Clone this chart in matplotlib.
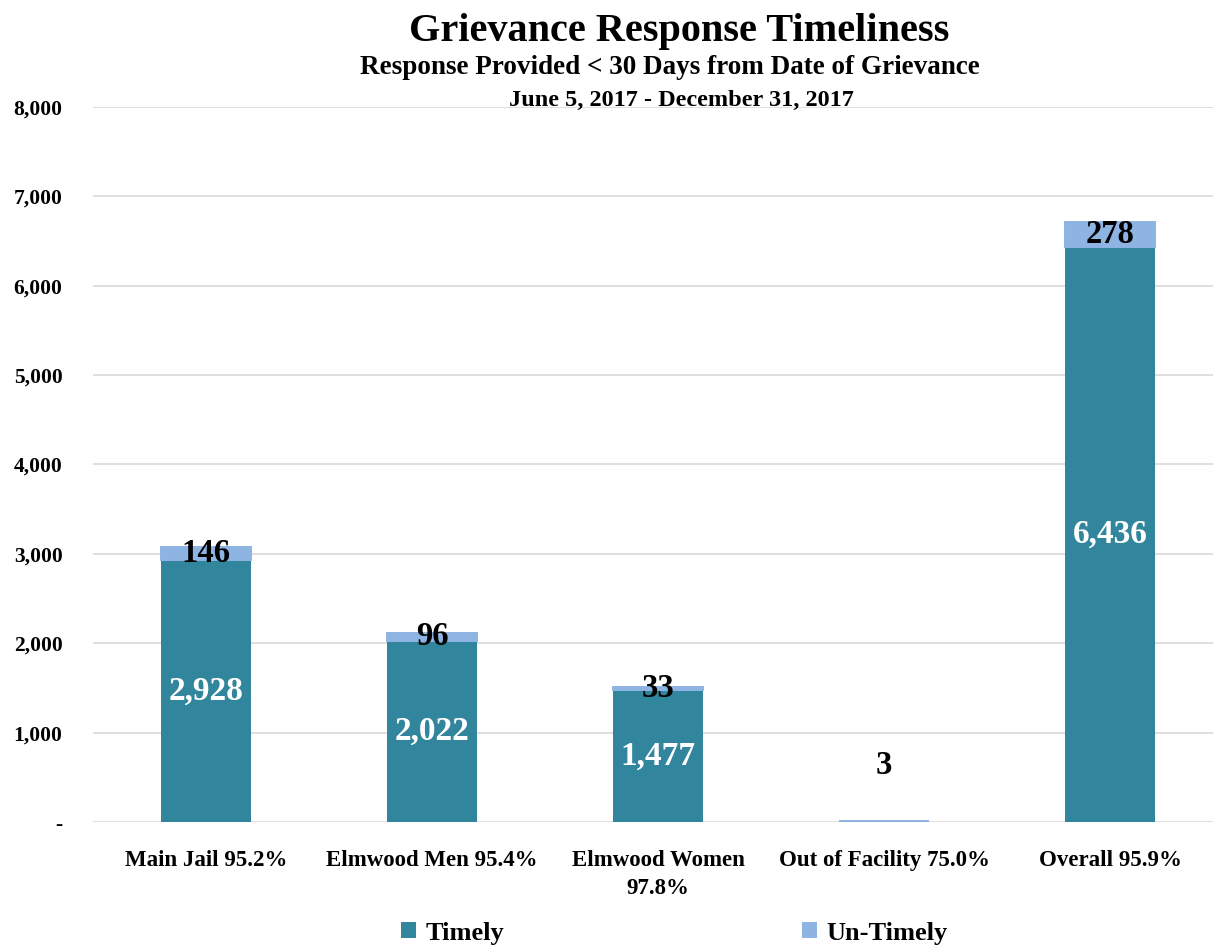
import matplotlib
matplotlib.use("Agg")
import matplotlib.pyplot as plt
from matplotlib.ticker import FuncFormatter
from matplotlib.patches import Patch

categories = ["Main Jail 95.2%", "Elmwood Men 95.4%", "Elmwood Women\n97.8%",
              "Out of Facility 75.0%", "Overall 95.9%"]
timely = [2928, 2022, 1477, 9, 6436]
untimely = [146, 96, 33, 3, 278]
yticks = [0, 1000, 2000, 3000, 4000, 5000, 6000, 7000, 8000]

TEAL = "#31859C"
LIGHT = "#8EB4E3"
FONT = "Liberation Serif"
plt.rcParams["font.family"] = [FONT, "DejaVu Serif"]

fig = plt.figure(figsize=(12.15, 9.47), dpi=100)
ax = fig.add_axes([93/1215, 1-822/947, (1213-93)/1215, (822-107)/947])

x = list(range(len(categories)))
w = 0.4
ax.bar(x, timely, width=w, color=TEAL, zorder=3)
ax.bar(x, untimely, width=w, bottom=timely, color=LIGHT, zorder=3,
       edgecolor=LIGHT, linewidth=1.4)

for i, (t, u) in enumerate(zip(timely, untimely)):
    if t > 500:
        ax.text(i, t/2, f"{t:,}", ha="center", va="center", color="white",
                fontsize=24, fontweight="bold", zorder=4)
    yc = t + u/2
    if t + u < 200:
        ax.annotate(f"{u:,}", (i, t+u), xytext=(0, 40), textcoords="offset points",
                    ha="center", va="center", fontsize=23.5, fontweight="bold",
                    color="black")
    else:
        ax.text(i, yc, f"{u:,}", ha="center", va="center", color="black",
                fontsize=23.5, fontweight="bold", zorder=4)

ax.set_xlim(-0.5, 4.456)
ax.set_ylim(0, 8000)
ax.set_yticks(yticks)
ax.yaxis.set_major_formatter(FuncFormatter(lambda v, p: "-" if v == 0 else f"{int(v):,}"))
ax.grid(axis="y", color="#D9D9D9", linewidth=1.2, zorder=0)
for s in ["top", "right", "left", "bottom"]:
    ax.spines[s].set_visible(False)
ax.tick_params(axis="both", length=0)
ax.tick_params(axis="y", pad=22, labelsize=15.5)
ax.set_xticks(x)
ax.set_xticklabels(categories, fontsize=16.5, fontweight="bold", linespacing=1.45)
ax.tick_params(axis="x", pad=20)
for lab in ax.get_yticklabels():
    lab.set_fontweight("bold")

fig.text(679/1215, 1-32/947, "Grievance Response Timeliness", ha="center", va="center",
         fontsize=29, fontweight="bold")
fig.text(670/1215, 1-68/947, "Response Provided < 30 Days from Date of Grievance",
         ha="center", va="center", fontsize=19.5, fontweight="bold")
fig.text(681/1215, 1-100/947, "June 5, 2017 - December 31, 2017", ha="center",
         va="center", fontsize=17.5, fontweight="bold")

handles = [Patch(facecolor=TEAL, label="Timely"), Patch(facecolor=LIGHT, label="Un-Timely")]
fig.legend(handles=handles, loc="center", bbox_to_anchor=(0.555, 1-933/947), ncol=2,
           frameon=False, prop={"family": FONT, "size": 19, "weight": "bold"},
           handlelength=0.55, handleheight=0.55, handletextpad=0.35, columnspacing=11.3)

fig.savefig("out.png", dpi=100)
